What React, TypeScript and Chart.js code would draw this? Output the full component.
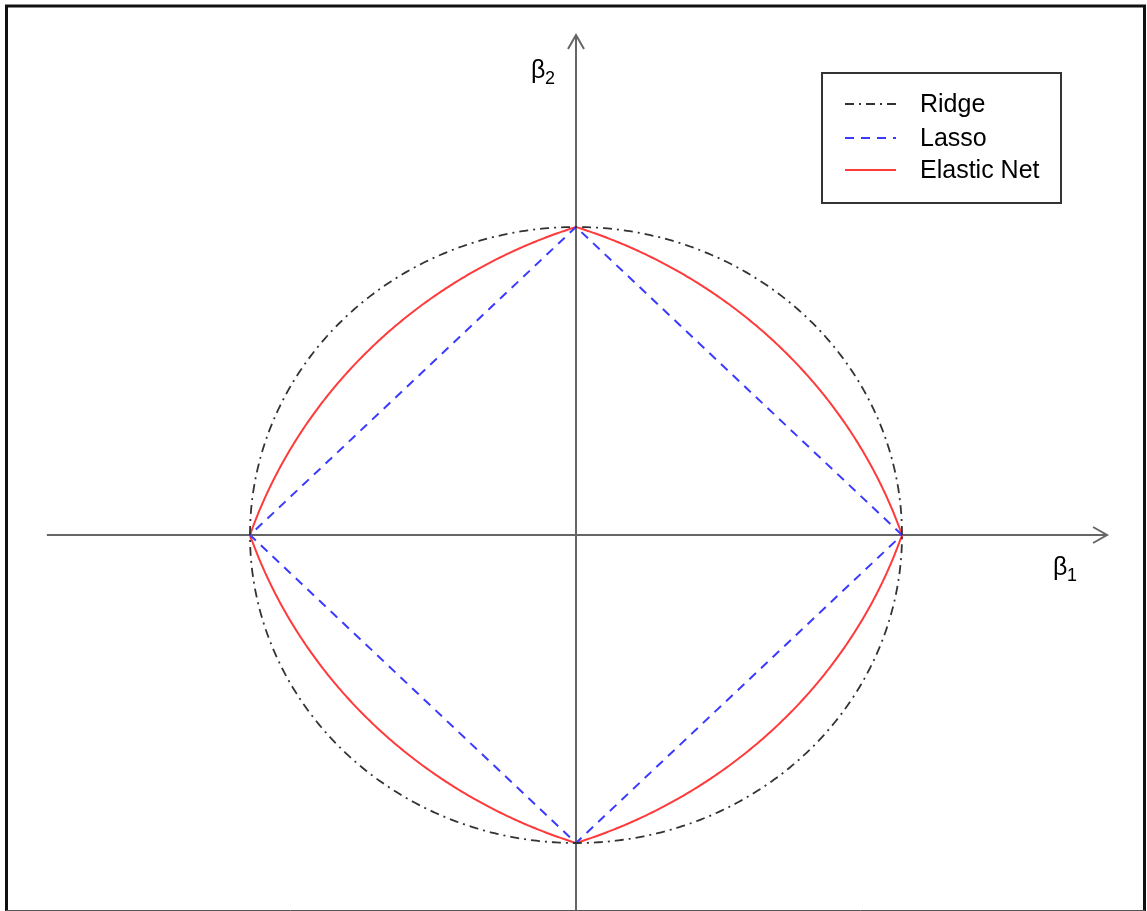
import React, { useEffect, useRef } from "react";
import { Chart, registerables } from "chart.js";

Chart.register(...registerables);

// ---- data / parameters ----
const ridgeRadius = 1;
const lassoX = [1, 0, -1, 0, 1];
const lassoY = [0, 1, 0, -1, 0];
const elasticAlpha = 0.5;
const curveSteps = 720;
const legendLabels = ["Ridge", "Lasso", "Elastic Net"];
const axisXRange = [-1.623, 1.629];
const axisYRange = [-1.25, 1.623];

const W = 1147;
const H = 911;
const FONT = "'Liberation Sans', Arial, Helvetica, sans-serif";

function ridgePoints() {
  const pts: { x: number; y: number }[] = [];
  for (let i = 0; i <= curveSteps; i++) {
    const t = (2 * Math.PI * i) / curveSteps;
    pts.push({ x: ridgeRadius * Math.cos(t), y: ridgeRadius * Math.sin(t) });
  }
  return pts;
}

function elasticPoints() {
  // boundary of alpha*(|b1|+|b2|) + (1-alpha)*(b1^2+b2^2) = 1
  const a = elasticAlpha;
  const pts: { x: number; y: number }[] = [];
  for (let i = 0; i <= curveSteps; i++) {
    const t = (2 * Math.PI * i) / curveSteps;
    const c = Math.abs(Math.cos(t)) + Math.abs(Math.sin(t));
    const A = 1 - a;
    const r = A === 0 ? 1 / (a * c) : (-a * c + Math.sqrt(a * a * c * c + 4 * A)) / (2 * A);
    pts.push({ x: r * Math.cos(t), y: r * Math.sin(t) });
  }
  return pts;
}

const decorPlugin = {
  id: "decor",
  beforeDatasetsDraw(chart: any) {
    const ctx = chart.ctx;
    const xs = chart.scales.x;
    const ys = chart.scales.y;
    const x0 = xs.getPixelForValue(0);
    const y0 = ys.getPixelForValue(0);
    const xl = xs.getPixelForValue(axisXRange[0]);
    const xr = xs.getPixelForValue(axisXRange[1]);
    const yb = ys.getPixelForValue(axisYRange[0]);
    const yt = ys.getPixelForValue(axisYRange[1]);
    ctx.save();
    ctx.strokeStyle = "#666";
    ctx.lineWidth = 2;
    ctx.beginPath();
    ctx.moveTo(xl, y0);
    ctx.lineTo(xr, y0);
    ctx.moveTo(x0, yb);
    ctx.lineTo(x0, yt);
    ctx.stroke();
    // arrow heads
    ctx.beginPath();
    ctx.moveTo(xr - 14, y0 - 8);
    ctx.lineTo(xr, y0);
    ctx.lineTo(xr - 14, y0 + 8);
    ctx.moveTo(x0 - 8, yt + 14);
    ctx.lineTo(x0, yt);
    ctx.lineTo(x0 + 8, yt + 14);
    ctx.stroke();
    ctx.restore();
  },
  afterDraw(chart: any) {
    const ctx = chart.ctx;
    ctx.save();
    // axis labels
    ctx.fillStyle = "#000";
    ctx.textBaseline = "alphabetic";
    ctx.font = `25px ${FONT}`;
    ctx.fillText("β", 531, 78);
    ctx.fillText("β", 1053, 575);
    ctx.font = `18px ${FONT}`;
    ctx.fillText("2", 545, 84);
    ctx.fillText("1", 1067, 581);

    // legend
    const bx = 822, by = 73, bw = 239, bh = 130;
    ctx.fillStyle = "#fff";
    ctx.fillRect(bx, by, bw, bh);
    ctx.strokeStyle = "#333";
    ctx.lineWidth = 2;
    ctx.strokeRect(bx, by, bw, bh);
    const rows = [104, 138, 170];
    const styles = [
      { color: "#333", dash: [9, 5, 2, 5], width: 1.8 },
      { color: "#3a3aff", dash: [9, 7], width: 2 },
      { color: "#ff3a3a", dash: [], width: 2 },
    ];
    for (let i = 0; i < legendLabels.length; i++) {
      const s = styles[i];
      ctx.strokeStyle = s.color;
      ctx.lineWidth = s.width;
      ctx.setLineDash(s.dash);
      ctx.beginPath();
      ctx.moveTo(845, rows[i]);
      ctx.lineTo(896, rows[i]);
      ctx.stroke();
      ctx.setLineDash([]);
      ctx.fillStyle = "#000";
      ctx.font = `25px ${FONT}`;
      ctx.textBaseline = "middle";
      ctx.fillText(legendLabels[i], 920, rows[i] + 1);
    }

    // outer border
    ctx.strokeStyle = "#111";
    ctx.lineWidth = 3;
    ctx.beginPath();
    ctx.moveTo(5, 6);
    ctx.lineTo(1146, 6);
    ctx.moveTo(6.5, 5);
    ctx.lineTo(6.5, 911);
    ctx.moveTo(1144.5, 5);
    ctx.lineTo(1144.5, 911);
    ctx.stroke();
    ctx.strokeStyle = "#555";
    ctx.lineWidth = 1;
    ctx.beginPath();
    ctx.moveTo(6, 910.5);
    ctx.lineTo(1145, 910.5);
    ctx.stroke();
    ctx.restore();
  },
};

export default function App() {
  const ref = useRef<HTMLCanvasElement | null>(null);
  useEffect(() => {
    if (!ref.current) return;
    const cx = 576, cy = 535, ux = 326, uy = 308;
    const chart = new Chart(ref.current, {
      type: "scatter",
      data: {
        datasets: [
          {
            label: legendLabels[0],
            data: ridgePoints(),
            showLine: true,
            borderColor: "#333",
            borderWidth: 1.8,
            borderDash: [9, 5, 2, 5],
            pointRadius: 0,
            fill: false,
          },
          {
            label: legendLabels[1],
            data: lassoX.map((x, i) => ({ x, y: lassoY[i] })),
            showLine: true,
            borderColor: "#3a3aff",
            borderWidth: 2,
            borderDash: [9, 7],
            pointRadius: 0,
            fill: false,
          },
          {
            label: legendLabels[2],
            data: elasticPoints(),
            showLine: true,
            borderColor: "#ff3a3a",
            borderWidth: 2,
            pointRadius: 0,
            fill: false,
          },
        ],
      },
      options: {
        animation: false,
        responsive: false,
        events: [],
        layout: { padding: 0 },
        plugins: { legend: { display: false }, tooltip: { enabled: false } },
        scales: {
          x: { type: "linear", display: false, min: -cx / ux, max: (W - cx) / ux },
          y: { type: "linear", display: false, min: -(H - cy) / uy, max: cy / uy },
        },
      },
      plugins: [decorPlugin],
    });
    return () => chart.destroy();
  }, []);
  return (
    <div style={{ position: "absolute", left: 0, top: 0, width: W, height: H, background: "#fff" }}>
      <canvas ref={ref} width={W} height={H} style={{ display: "block" }} />
    </div>
  );
}
